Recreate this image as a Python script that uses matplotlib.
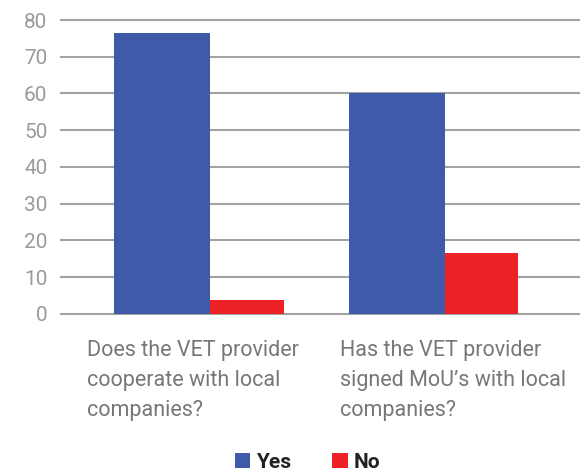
import matplotlib
matplotlib.use("Agg")
import matplotlib.pyplot as plt
import numpy as np

categories = [
    "Does the VET provider\ncooperate with local\ncompanies?",
    "Has the VET provider\nsigned MoU\u2019s with local\ncompanies?",
]
yes_values = [76.5, 60.0]
no_values = [3.8, 16.6]
series_names = ["Yes", "No"]
yticks = [0, 10, 20, 30, 40, 50, 60, 70, 80]

BLUE = "#3F5AA8"
RED = "#EC2227"
GRID = "#A3A3A3"
TICK_GREY = "#9A9A9A"
LABEL_GREY = "#777777"

plt.rcParams["font.family"] = ["Roboto", "DejaVu Sans"]

fig = plt.figure(figsize=(5.8, 4.73), dpi=100)
ax = fig.add_axes([0.1034, 0.3323, 0.8966, 0.6293])

x = np.arange(len(categories))
width = 0.41
offset = 0.157

# red bars sit behind the blue ones, partly overlapped
ax.bar(x + offset, no_values, width, color=RED, zorder=2, label=series_names[1])
ax.bar(x - offset, yes_values, width, color=BLUE, zorder=3, label=series_names[0])

ax.set_ylim(-0.5, 80.5)
ax.set_xlim(-0.593, 1.625)
ax.set_yticks(yticks)
ax.yaxis.grid(True, color=GRID, linewidth=1.5, zorder=1)
ax.set_axisbelow(True)
for s in ax.spines.values():
    s.set_visible(False)
ax.tick_params(axis="y", length=0, pad=9, labelsize=15, labelcolor=TICK_GREY)
ax.set_xticks([])

# category labels below each group, left-aligned block
label_shift = [-0.478, -0.399]
for i, (cat, sh) in enumerate(zip(categories, label_shift)):
    ax.text(i + sh, -0.082, cat, transform=ax.get_xaxis_transform(),
            ha="left", va="top", fontsize=15.5, color=LABEL_GREY,
            linespacing=1.55, clip_on=False)

handles, labels = ax.get_legend_handles_labels()
leg = fig.legend(handles[::-1], labels[::-1], loc="center", ncol=2,
                 bbox_to_anchor=(0.53, 0.022), frameon=False,
                 handlelength=0.75, handleheight=0.75, handletextpad=0.25,
                 columnspacing=2.0, prop={"weight": "bold", "size": 15})
for t in leg.get_texts():
    t.set_color("#222222")

fig.savefig("out.png", dpi=100)
